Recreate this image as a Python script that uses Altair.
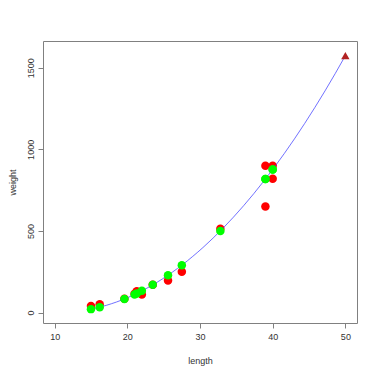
import altair as alt
import pandas as pd

# observed (red) and fitted (green) values
lengths = [15.0, 16.2, 19.6, 21.0, 21.3, 22.0, 23.5, 25.6, 27.5, 32.8, 39.0, 39.0, 40.0, 40.0]
observed = [40, 51.5, 85, 115, 130, 110, 170, 197, 250, 514, 900, 650, 900, 820]
fitted = [21, 33, 83, 111, 117, 133, 170, 229, 290, 500, 818, 818, 877, 877]

# prediction at 50 (triangle)
pred_length = [50.0]
pred_weight = [1574]

x_ticks = [10, 20, 30, 40, 50]
y_ticks = [0, 500, 1000, 1500]

obs_df = pd.DataFrame({"length": lengths, "weight": observed})
fit_df = pd.DataFrame({"length": lengths, "weight": fitted})
pred_df = pd.DataFrame({"length": pred_length, "weight": pred_weight})
curve_df = pd.concat([fit_df, pred_df], ignore_index=True)

font = "Liberation Sans"
axis_col = "#808080"
text_col = "#333333"

x_enc = alt.X(
    "length:Q",
    scale=alt.Scale(domain=[8.4, 51.6], nice=False, zero=False),
    axis=alt.Axis(
        values=x_ticks, title="length", grid=False, domain=False, format="d",
        tickSize=5, tickColor=axis_col, labelPadding=4,
        labelFontSize=9, labelColor=text_col, labelFont=font,
        titleFontSize=9, titleFontWeight="normal", titleColor=text_col, titleFont=font,
        titleY=37, titleBaseline="middle",
    ),
)
y_enc = alt.Y(
    "weight:Q",
    scale=alt.Scale(domain=[-64, 1664], nice=False, zero=False),
    axis=alt.Axis(
        values=y_ticks, title="weight", grid=False, domain=False, format="d",
        tickSize=5, tickColor=axis_col, labelPadding=3,
        labelAngle=270, labelAlign="center", labelBaseline="bottom",
        labelFontSize=9, labelColor=text_col, labelFont=font,
        titleFontSize=9, titleFontWeight="normal", titleColor=text_col, titleFont=font,
        titleAngle=270, titleX=-31, titleY=141, titleBaseline="middle", titleAlign="center",
    ),
)

red = alt.Chart(obs_df).mark_circle(size=72, color="#FF0000", opacity=1).encode(x=x_enc, y=y_enc)

curve = (
    alt.Chart(curve_df)
    .transform_regression("length", "weight", method="poly", order=2, extent=[15, 50])
    .mark_line(color="#3333FF", strokeWidth=0.7)
    .encode(x=x_enc, y=y_enc)
)

green = alt.Chart(fit_df).mark_circle(size=72, color="#00FF00", opacity=1).encode(x=x_enc, y=y_enc)

tri = alt.Chart(pred_df).mark_point(
    shape="triangle-up", size=70, filled=True, color="#B22222", opacity=1
).encode(x=x_enc, y=y_enc)

chart = (
    alt.layer(red, curve, green, tri)
    .properties(
        width=314, height=282,
        autosize=alt.AutoSizeParams(type="none"),
        padding={"left": 35, "top": 33, "right": 10, "bottom": 46},
        background="white",
    )
    .configure_view(stroke=axis_col, strokeWidth=1)
)

chart.save("out.html", embed_options={"renderer": "svg", "actions": False})
